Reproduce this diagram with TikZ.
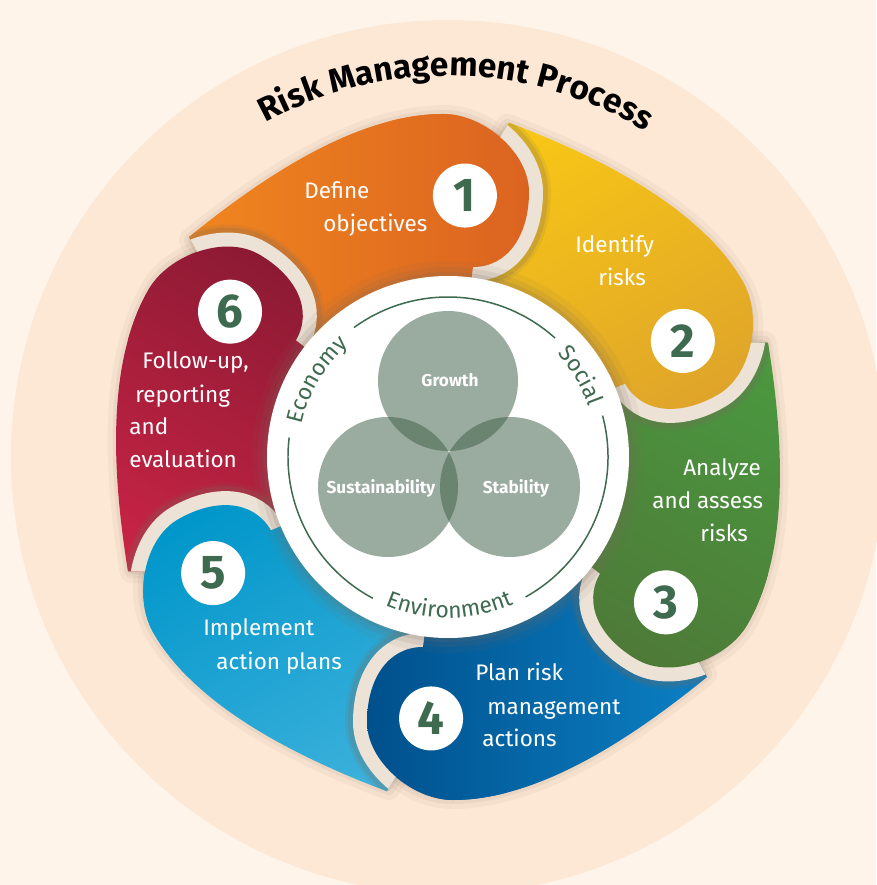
\documentclass[tikz,border=0pt]{standalone}
\usepackage{fontspec}
\setmainfont{Fira Sans}
\usetikzlibrary{decorations.text}

\definecolor{bgout}{HTML}{FEF4EA}
\definecolor{bgin}{HTML}{FDE8D5}
\definecolor{halo}{HTML}{ECE3D6}
\definecolor{shadowbrown}{HTML}{7A6A5A}
\definecolor{ringgreen}{HTML}{3E6A4F}
\definecolor{venn}{HTML}{42624C}
\definecolor{orangeT}{HTML}{F0861F}
\definecolor{orangeH}{HTML}{DB6320}
\definecolor{yellowT}{HTML}{F9C914}
\definecolor{yellowH}{HTML}{DFA42A}
\definecolor{greenT}{HTML}{4A9A40}
\definecolor{greenH}{HTML}{4E7A38}
\definecolor{blueT}{HTML}{0B80C4}
\definecolor{blueH}{HTML}{00508C}
\definecolor{cyanT}{HTML}{3FB2DC}
\definecolor{cyanH}{HTML}{0096CA}
\definecolor{redT}{HTML}{CB2446}
\definecolor{redH}{HTML}{8C1A33}

\newcommand{\titlefnt}{\fontsize{19}{19}\selectfont\bfseries}
\newcommand{\ringfnt}{\fontsize{13}{13}\selectfont}
% one petal, head at 86.3 degrees, tail tucked under the previous head
\newcommand{\petalpath}{(-259,220) .. controls (-183,282) and (-90,343) .. (-5,343)
  .. controls (35,343) and (81,305) .. (81,265)
  .. controls (81,222) and (60,190) .. (25,190) -- (0,0) -- (146.3:262) -- cycle}

\begin{document}
\begin{tikzpicture}[x=0.02cm, y=0.02cm,
  petaltext/.style={text=white, font=\fontsize{12.8}{12.8}\selectfont, anchor=base west, inner sep=0},
  numdisc/.style={circle, fill=white, minimum size=1.28cm, inner sep=0, text=ringgreen,
    font=\fontsize{27}{27}\selectfont\bfseries},
  venntext/.style={text=white, font=\fontsize{9.8}{9.8}\selectfont\bfseries},
  ringline/.style={ringgreen, line width=0.85pt},
  softshadow/.style={shadowbrown, line join=round, xshift=0.04cm, yshift=-0.06cm}]
\useasboundingbox (-448,-428) rectangle (428,457);
\fill[bgout] (-448,-428) rectangle (428,457);
\fill[bgin] (0,0) circle (437);

% shadows, petals, then each head again over the next tail
\foreach \k in {0,...,5}
{
  \begin{scope}[transform canvas={rotate=-60*\k}]
    \draw[softshadow, opacity=.06, line width=0.48cm] \petalpath;
    \draw[softshadow, opacity=.08, line width=0.28cm] \petalpath;
    \draw[softshadow, opacity=.1, line width=0.12cm] \petalpath;
  \end{scope}
}
\foreach \tc/\hc [count=\k from 0] in {orangeT/orangeH, yellowT/yellowH, greenT/greenH,
    blueT/blueH, cyanT/cyanH, redT/redH}
{
  \begin{scope}[transform canvas={rotate=-60*\k}]
    \shade[left color=\tc, right color=\hc] \petalpath;
  \end{scope}
}
\foreach \tc/\hc [count=\k from 0] in {orangeT/orangeH, yellowT/yellowH, greenT/greenH,
    blueT/blueH, cyanT/cyanH, redT/redH}
{
  \begin{scope}[transform canvas={rotate=-60*\k}]
    \begin{scope}
      \clip[rotate=-60] \petalpath;
      \draw[shadowbrown, opacity=.12, line width=0.88cm, line join=round] \petalpath;
      \draw[shadowbrown, opacity=.2, line width=0.76cm, line join=round] \petalpath;
      \draw[halo, line width=0.56cm, line join=round] \petalpath;
    \end{scope}
    \clip (0,0) -- (40:500) -- (100:500) -- cycle;
    \shade[left color=\tc, right color=\hc] \petalpath;
  \end{scope}
}

% centre disc
\fill[shadowbrown, opacity=.08] (0,0) circle (196);
\fill[shadowbrown, opacity=.12] (0,0) circle (190);
\fill[shadowbrown, opacity=.15] (0,0) circle (185);
\fill[white] (0,0) circle (181);

\draw[ringline] (126:160) arc[start angle=126, end angle=48, radius=160];
\draw[ringline] (15:160) arc[start angle=15, end angle=-61, radius=160];
\draw[ringline] (-118:160) arc[start angle=-118, end angle=-187, radius=160];
\path[decorate, decoration={text along path, text align=center, text color=ringgreen,
  text={|\ringfnt|Economy}}] (169:150) arc[start angle=169, end angle=130, radius=150];
\path[decorate, decoration={text along path, text align=center, text color=ringgreen,
  text={|\ringfnt|Social}}] (48:150) arc[start angle=48, end angle=15, radius=150];
\path[decorate, decoration={text along path, text align=center, text color=ringgreen,
  text={|\ringfnt|Environment}}] (-119:161) arc[start angle=-119, end angle=-60, radius=161];

\fill[venn, opacity=.535] (0,76) circle (70);
\fill[venn, opacity=.535] (-60,-30) circle (70);
\fill[venn, opacity=.535] (62,-30) circle (70);
\node[venntext] (growth) at (2,77) {Growth};
\node[venntext] (sust) at (-67,-31) {Sustainability};
\node[venntext] (stab) at (68,-31) {Stability};

% step texts
\node[petaltext] (t1a) at (-144,258) {Define};
\node[petaltext] (t1b) at (-125,225) {objectives};
\node[petaltext] (t2a) at (127,204) {Identify};
\node[petaltext] (t2b) at (150,171) {risks};
\node[petaltext] (t3a) at (235,-19) {Analyze};
\node[petaltext] (t3b) at (204,-52) {and assess};
\node[petaltext] (t3c) at (252,-85) {risks};
\node[petaltext] (t4a) at (27,-223) {Plan risk};
\node[petaltext] (t4b) at (39,-257) {management};
\node[petaltext] (t4c) at (34,-289) {actions};
\node[petaltext] (t5a) at (-245,-178) {Implement};
\node[petaltext] (t5b) at (-232,-212) {action plans};
\node[petaltext] (t6a) at (-306,88) {Follow-up,};
\node[petaltext] (t6b) at (-313,54) {reporting};
\node[petaltext] (t6c) at (-319,22) {and};
\node[petaltext] (t6d) at (-319,-11) {evaluation};

\foreach \n in {1,...,6}
  \node[numdisc] (num\n) at ({146.3-60*\n}:262) {\n};

\path[decorate, decoration={text along path, text align=center,
  text={|\titlefnt|Risk Management Process}}] (148.7:381) arc[start angle=148.7, end angle=28.7, radius=381];
\end{tikzpicture}
\end{document}
